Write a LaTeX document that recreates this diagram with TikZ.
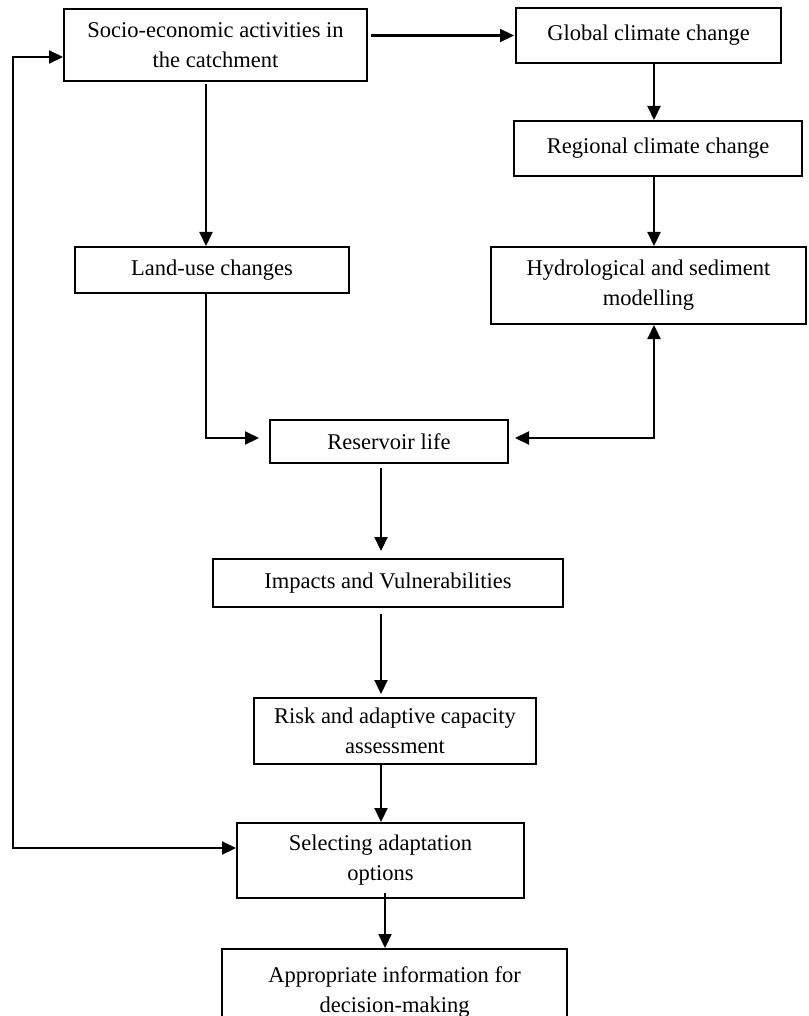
\documentclass[tikz,border=0pt]{standalone}
\usepackage{fontspec}
\setmainfont{Liberation Serif}
\usetikzlibrary{arrows.meta}
\begin{document}
\begin{tikzpicture}[x=1pt,y=-1pt,
  box/.style={draw, line width=2pt, inner sep=0pt, align=center,
    font=\fontsize{22.5}{30}\selectfont},
  arr/.style={line width=2.2pt, -{Triangle[length=14pt,width=13pt]}},
  darr/.style={line width=2.2pt, {Triangle[length=14pt,width=13pt]}-{Triangle[length=14pt,width=13pt]}}]
\clip (0,0) rectangle (808,1016);
\useasboundingbox (0,0) rectangle (808,1016);
\fill[white] (0,0) rectangle (808,1016);

\node[box, minimum width=303pt, minimum height=72pt] (soc) at (215.5,45) {Socio-economic activities in\\the catchment};
\node[box, minimum width=265pt, minimum height=55pt] (glob) at (648.5,35.5) {Global climate change};
\node[box, minimum width=288pt, minimum height=55pt] (reg) at (658,148.5) {Regional climate change};
\node[box, minimum width=274pt, minimum height=46pt] (land) at (212,270) {Land-use changes};
\node[box, minimum width=315pt, minimum height=77pt] (hyd) at (648.5,285.5) {Hydrological and sediment\\modelling};
\node[box, minimum width=238pt, minimum height=43pt] (res) at (389,441.5) {Reservoir life};
\node[box, minimum width=350pt, minimum height=48pt] (imp) at (388,583) {Impacts and Vulnerabilities};
\node[box, minimum width=282pt, minimum height=66pt] (risk) at (395,731) {Risk and adaptive capacity\\assessment};
\node[box, minimum width=287pt, minimum height=75pt] (sel) at (380.5,860.5) {Selecting adaptation\\options};
\node[box, minimum width=345pt, minimum height=86pt] (app) at (394.5,992) {Appropriate information for\\decision-making};

% connectors
\draw[arr] ([xshift=3pt]soc.east |- glob.west) -- ([xshift=-1pt]glob.west);
\draw[arr] ([xshift=5.5pt]glob.south) -- ([xshift=5.5pt]glob.south |- reg.north);
\draw[arr] ([xshift=-4pt]reg.south) -- ([xshift=-4pt]reg.south |- hyd.north);
\draw[arr] ([xshift=-6pt,yshift=-2pt]land.north |- soc.south) -- ([xshift=-6pt]land.north);
\draw[arr] ([xshift=-6pt]land.south) |- ([xshift=-10pt,yshift=3.5pt]res.west);
\draw[darr] ([xshift=6pt,yshift=3.5pt]res.east) -| ([xshift=5.5pt]hyd.south);
\draw[arr] ([xshift=-7pt,yshift=-4pt]imp.north |- res.south) -- ([xshift=-7pt,yshift=7pt]imp.north);
\draw[arr] ([xshift=-7pt,yshift=-6pt]imp.south) -- ([xshift=-14pt,yshift=3pt]risk.north);
\draw[arr] ([xshift=-14pt]risk.south) -- ([xshift=-14pt]risk.south |- sel.north);
\draw[arr] ([xshift=4.5pt,yshift=6pt]sel.south) -- ([xshift=4.5pt]sel.south |- app.north);
\draw[darr] ([yshift=-12pt]soc.west) -- ++(-50,0) |- ([yshift=12.5pt]sel.west);
\end{tikzpicture}
\end{document}
